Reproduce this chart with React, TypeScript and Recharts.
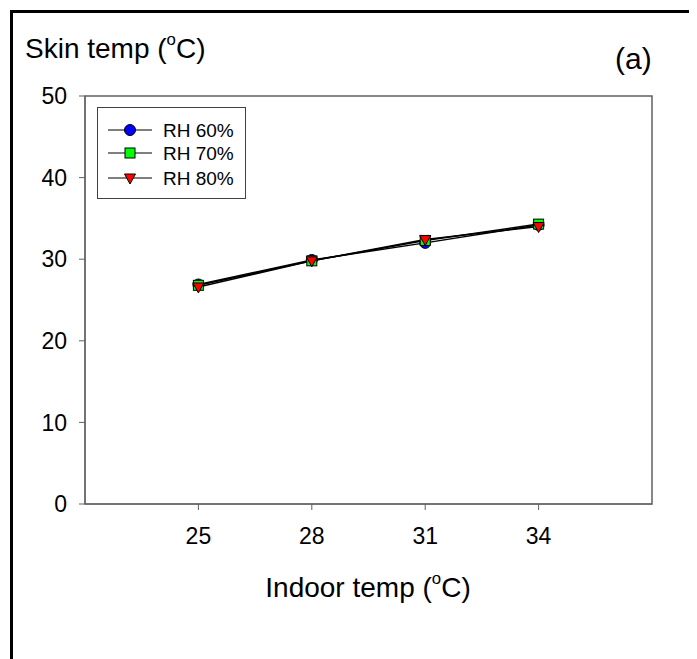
import React from 'react';
import {
  LineChart,
  Line,
  XAxis,
  YAxis,
  ReferenceArea,
} from 'recharts';

const indoorTemps = [25, 28, 31, 34];
const rh60 = [26.9, 29.9, 32.0, 34.2];
const rh70 = [26.8, 29.8, 32.3, 34.3];
const rh80 = [26.6, 29.8, 32.4, 34.0];
const xTicks = [25, 28, 31, 34];
const yTicks = [0, 10, 20, 30, 40, 50];

const data = indoorTemps.map((t, i) => ({
  t,
  rh60: rh60[i],
  rh70: rh70[i],
  rh80: rh80[i],
}));

const FONT = '"Liberation Sans", Arial, sans-serif';
const AXIS = '#606060';

type DotProps = { cx?: number; cy?: number; index?: number };

const CircleDot = ({ cx = 0, cy = 0 }: DotProps) => (
  <circle cx={cx} cy={cy} r={5.5} fill='#0000ff' stroke='#000' strokeWidth={1} />
);

const SquareDot = ({ cx = 0, cy = 0 }: DotProps) => (
  <rect x={cx - 5} y={cy - 5} width={10} height={10} fill='#00ff00' stroke='#000' strokeWidth={1} />
);

const TriangleDot = ({ cx = 0, cy = 0 }: DotProps) => (
  <polygon
    points={`${cx - 5.5},${cy - 4} ${cx + 5.5},${cy - 4} ${cx},${cy + 6}`}
    fill='#ff0000'
    stroke='#000'
    strokeWidth={1}
  />
);

const legendItems = [
  { label: 'RH 60%', Marker: CircleDot },
  { label: 'RH 70%', Marker: SquareDot },
  { label: 'RH 80%', Marker: TriangleDot },
];

// legend box sits in the top-left corner of the plot, drawn outside the chart so it takes no space
const LegendBox = () => (
  <svg width={149} height={92} style={{ position: 'absolute', left: 89, top: 99 }}>
    <rect x={0.5} y={0.5} width={148} height={91} fill='#fff' stroke='#404040' strokeWidth={1} />
    {legendItems.map(({ label, Marker }, i) => {
      const y = [23, 46, 71][i];
      return (
        <g key={label}>
          <line x1={11} x2={55} y1={y} y2={y} stroke='#000' strokeWidth={1.2} />
          <Marker cx={33} cy={y} />
          <text x={66} y={y} dy='0.35em' fontSize={19} fontFamily={FONT} fill='#000'>
            {label}
          </text>
        </g>
      );
    })}
  </svg>
);

const Degree = () => (
  <tspan fontSize='0.6em' dy='-0.75em'>o</tspan>
);

export default function App() {
  return (
    <div style={{ position: 'relative', width: 689, height: 651, overflow: 'hidden', background: '#fff' }}>
      <div
        style={{
          position: 'absolute',
          left: 2,
          top: 2,
          width: 900,
          height: 900,
          borderLeft: '3px solid #000',
          borderTop: '3px solid #000',
        }}
      />
      <LineChart
        width={689}
        height={651}
        data={data}
        margin={{ top: 88, right: 45, left: 17, bottom: 115 }}
        style={{ position: 'absolute', left: 0, top: 0 }}
      >
        <XAxis
          dataKey='t'
          type='number'
          domain={[22, 37]}
          ticks={xTicks}
          allowDataOverflow
          height={40}
          stroke={AXIS}
          tickSize={6}
          tickMargin={18}
          tick={{ fill: '#000', fontSize: 23, fontFamily: FONT }}
        />
        <YAxis
          type='number'
          domain={[0, 50]}
          ticks={yTicks}
          width={60}
          stroke={AXIS}
          tickSize={6}
          tickMargin={12}
          tick={{ fill: '#000', fontSize: 23, fontFamily: FONT }}
        />
        <ReferenceArea
          x1={22}
          x2={37}
          y1={0}
          y2={50}
          fill='none'
          fillOpacity={0}
          stroke={AXIS}
          strokeWidth={1.5}
          ifOverflow='visible'
        />
        <Line dataKey='rh60' stroke='#000' strokeWidth={1.5} dot={(p: DotProps) => <CircleDot key={`a${p.index}`} {...p} />} isAnimationActive={false} />
        <Line dataKey='rh70' stroke='#000' strokeWidth={1.5} dot={(p: DotProps) => <SquareDot key={`b${p.index}`} {...p} />} isAnimationActive={false} />
        <Line dataKey='rh80' stroke='#000' strokeWidth={1.5} dot={(p: DotProps) => <TriangleDot key={`c${p.index}`} {...p} />} isAnimationActive={false} />
      </LineChart>
      <LegendBox />
      <svg width={689} height={651} style={{ position: 'absolute', left: 0, top: 0, pointerEvents: 'none' }}>
        <text x={17} y={50} fontSize={28} fontFamily={FONT} fill='#000'>
          Skin temp (<Degree /><tspan dy='0.45em'>C)</tspan>
        </text>
        <text x={607} y={61} fontSize={30} fontFamily={FONT} fill='#000'>
          (a)
        </text>
        <text x={360} y={589} textAnchor='middle' fontSize={28} fontFamily={FONT} fill='#000'>
          Indoor temp (<Degree /><tspan dy='0.45em'>C)</tspan>
        </text>
      </svg>
    </div>
  );
}
